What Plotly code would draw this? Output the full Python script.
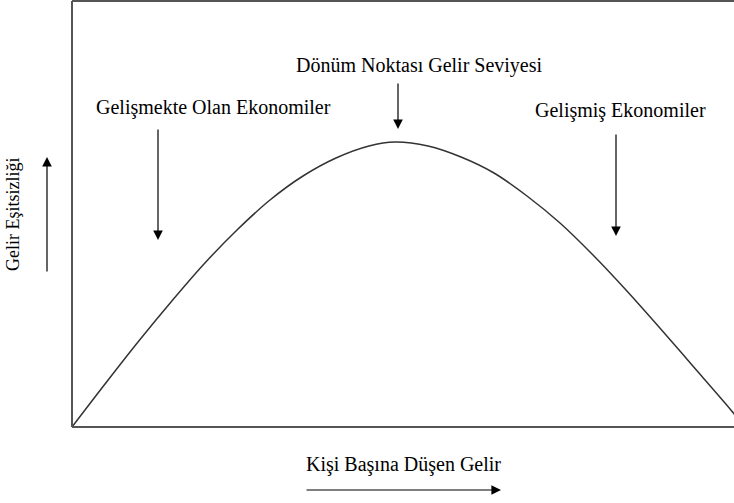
import plotly.graph_objects as go

# curve (x: income, y: inequality), arbitrary units
income = [0, 33, 66, 99, 132, 165, 198, 231, 264, 297, 323,
          356, 389, 422, 455, 488, 521, 554, 587, 620, 653, 673]
inequality = [0, 43, 85, 125, 163, 197, 227, 251, 269, 281, 285,
              281, 270, 254, 231, 204, 172, 137, 100, 62, 24, 0]

W, H = 734, 503
L, R, T, B = 72, 0, 1, 76                                   # plot area 72..734 x 1..427
FONT = dict(family='Liberation Serif', size=20, color='black')
FRAME = '#555555'


def px(x, y):
    """page pixel -> paper coords"""
    return (x - L) / (W - L - R), (H - B - y) / (H - B - T)


fig = go.Figure(go.Scatter(x=income, y=inequality, mode='lines', line=dict(color='#333333', width=1.5, shape='spline'),
                           hoverinfo='skip'))

fig.update_layout(
    width=W, height=H,
    margin=dict(l=L, r=R, t=T, b=B),
    plot_bgcolor='white', paper_bgcolor='white',
    showlegend=False,
    xaxis=dict(range=[0, 662], visible=False, fixedrange=True),
    yaxis=dict(range=[0, 426], visible=False, fixedrange=True),
)

# frame: left, top, bottom (right edge is cut off)
for x0, y0, x1, y1 in [(0, 0, 0, 1), (0, 1, 1, 1), (0, 0, 1, 0)]:
    fig.add_shape(type='line', xref='paper', yref='paper', x0=x0, y0=y0, x1=x1, y1=y1, line=dict(color=FRAME, width=2))

labels = [
    ('Dönüm Noktası Gelir Seviyesi', 419, 66),
    ('Gelişmekte Olan Ekonomiler', 213, 108),
    ('Gelişmiş Ekonomiler', 620, 111),
    ('Kişi Başına Düşen Gelir', 403, 464),
]
for text, x, y in labels:
    xp, yp = px(x, y)
    fig.add_annotation(text=text, xref='paper', yref='paper', x=xp, y=yp, xanchor='center', yanchor='middle',
                       showarrow=False, font=FONT)

xp, yp = px(13, 215)
fig.add_annotation(text='Gelir Eşitsizliği', xref='paper', yref='paper', x=xp, y=yp, xanchor='center', yanchor='middle',
                   showarrow=False, textangle=-90, font=dict(FONT, size=18))

# arrows: (tail x, tail y, tip x, tip y)
arrows = [(398, 82, 398, 129), (158, 128, 158, 240), (616, 133, 616, 236), (47, 273, 47, 157), (305, 490, 501, 490)]
for x0, y0, x1, y1 in arrows:
    xp, yp = px(x1, y1)
    fig.add_annotation(text='', xref='paper', yref='paper', x=xp, y=yp, ax=x0 - x1, ay=y0 - y1,
                       axref='pixel', ayref='pixel', showarrow=True, arrowhead=2, arrowsize=1.6,
                       arrowwidth=1.2, arrowcolor='black')

# page has an 8px body margin by default, drop it so the figure sits at 0,0
fig.write_html('out.html', config={'displayModeBar': False},
               post_script="document.body.style.margin='0';document.body.style.overflow='hidden';")
